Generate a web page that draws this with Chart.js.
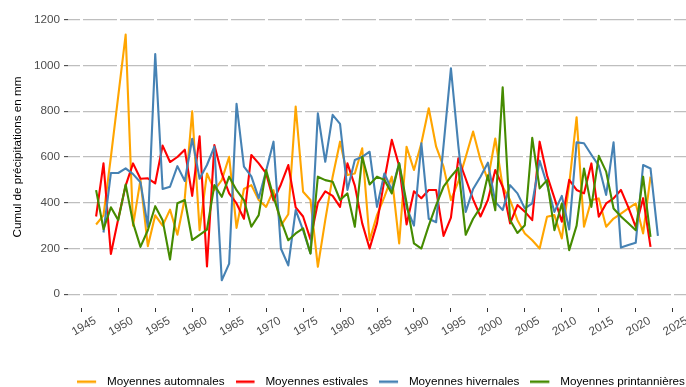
<!DOCTYPE html>
<html lang="fr">
<head>
<meta charset="utf-8">
<title>Cumul de précipitations saisonnier</title>
<script src="https://cdn.jsdelivr.net/npm/chart.js@4/dist/chart.umd.min.js"></script>
<style>
  html, body { margin: 0; padding: 0; background: #ffffff; }
  #graphique { display: block; }
</style>
</head>
<body>
<canvas id="graphique" width="686" height="387"></canvas>
<script>
// Années couvertes par les séries saisonnières
const annees = [
  1947, 1948, 1949, 1950, 1951, 1952, 1953, 1954, 1955, 1956,
  1957, 1958, 1959, 1960, 1961, 1962, 1963, 1964, 1965, 1966,
  1967, 1968, 1969, 1970, 1971, 1972, 1973, 1974, 1975, 1976,
  1977, 1978, 1979, 1980, 1981, 1982, 1983, 1984, 1985, 1986,
  1987, 1988, 1989, 1990, 1991, 1992, 1993, 1994, 1995, 1996,
  1997, 1998, 1999, 2000, 2001, 2002, 2003, 2004, 2005, 2006,
  2007, 2008, 2009, 2010, 2011, 2012, 2013, 2014, 2015, 2016,
  2017, 2018, 2019, 2020, 2021, 2022, 2023
];

// Cumuls moyens (mm) par saison
const automnales = [
  305, 345, 600, 867, 1135, 300, 500, 210, 345, 300,
  370, 260, 420, 800, 280, 528, 455, 499, 601, 290,
  460, 477, 412, 382, 455, 300, 350, 820, 448, 412,
  120, 324, 514, 667, 521, 528, 638, 236, 346, 426,
  514, 222, 645, 543, 660, 813, 645, 558, 412, 492,
  600, 711, 587, 500, 681, 470, 412, 324, 266, 236,
  200, 339, 346, 244, 480, 774, 295, 412, 419, 295,
  331, 353, 375, 397, 266, 514, null
];

const estivales = [
  340, 572, 176, 330, 475, 572, 505, 507, 485, 650,
  578, 600, 632, 430, 690, 122, 652, 528, 441, 397,
  330, 609, 572, 528, 410, 480, 565, 380, 340, 240,
  400, 450, 430, 382, 572, 475, 310, 200, 310, 500,
  675, 560, 305, 450, 420, 456, 456, 255, 335, 594,
  505, 415, 340, 412, 543, 470, 310, 390, 361, 324,
  667, 520, 420, 317, 500, 456, 441, 572, 339, 397,
  419, 456, 380, 295, 420, 207, null
];

const hivernales = [
  null, 270, 530, 530, 550, 525, 490, 295, 1050, 460,
  470, 560, 495, 680, 505, 565, 645, 61, 134, 832,
  558, 515, 420, 540, 667, 200, 126, 368, 280, 178,
  791, 579, 784, 745, 456, 587, 601, 623, 382, 528,
  456, 572, 380, 300, 660, 330, 315, 650, 988, 650,
  360, 460, 514, 575, 404, 368, 477, 441, 375, 397,
  584, 480, 360, 430, 283, 664, 660, 610, 562, 434,
  664, 204, 215, 225, 565, 550, 255
];

const printanieres = [
  455, 285, 380, 324, 480, 312, 207, 280, 385, 324,
  152, 398, 412, 237, 260, 283, 477, 426, 514, 455,
  412, 295, 346, 543, 426, 324, 236, 266, 288, 178,
  514, 499, 492, 412, 441, 295, 601, 480, 514, 500,
  441, 573, 400, 222, 200, 300, 390, 470, 514, 552,
  260, 330, 380, 520, 367, 905, 324, 268, 302, 684,
  463, 499, 280, 397, 193, 300, 550, 382, 605, 536,
  375, 340, 310, 280, 514, 251, null
];

// Graduations des axes
const graduationsX = [1945, 1950, 1955, 1960, 1965, 1970, 1975, 1980,
                      1985, 1990, 1995, 2000, 2005, 2010, 2015, 2020, 2025];
const graduationsY = [0, 200, 400, 600, 800, 1000, 1200];

const police = '"Liberation Sans", Arial, Helvetica, sans-serif';
const taille = 11.7;

// Petit trait de légende, suivi d'un espace avant le texte
function trait(couleur) {
  const c = document.createElement('canvas');
  c.width = 24;
  c.height = 4;
  const g = c.getContext('2d');
  g.strokeStyle = couleur;
  g.lineWidth = 2.5;
  g.beginPath();
  g.moveTo(0, 2);
  g.lineTo(19, 2);
  g.stroke();
  return c;
}

function serie(libelle, valeurs, couleur, ordre) {
  return {
    label: libelle,
    data: annees.map((a, i) => ({ x: a, y: valeurs[i] })),
    borderColor: couleur,
    backgroundColor: couleur,
    borderWidth: 2.1,
    borderJoinStyle: 'round',
    pointRadius: 0,
    pointHoverRadius: 0,
    pointStyle: trait(couleur),
    tension: 0,
    fill: false,
    order: ordre
  };
}

// Légende recentrée sous le panneau et descendue en bas du cadre
const placementLegende = {
  id: 'placementLegende',
  afterLayout(chart) {
    const lg = chart.legend;
    if (!lg) return;
    lg.left += 38; lg.right += 38;
    lg.top += 10.5; lg.bottom += 10.5;
  }
};

new Chart(document.getElementById('graphique'), {
  type: 'line',
  data: {
    datasets: [
      serie('Moyennes automnales', automnales, '#FFA500', 3),
      serie('Moyennes estivales', estivales, '#FF0000', 2),
      serie('Moyennes hivernales', hivernales, '#4682B4', 1),
      serie('Moyennes printannières', printanieres, '#458B00', 0)
    ]
  },
  options: {
    responsive: false,
    animation: false,
    devicePixelRatio: 1,
    events: [],
    layout: { padding: { top: 6, left: 0, right: 0, bottom: 0 } },
    scales: {
      x: {
        type: 'linear',
        min: 1943.2,
        max: 2026.8,
        afterBuildTicks: (s) => { s.ticks = graduationsX.map(v => ({ value: v })); },
        afterFit: (s) => { s.height = 46.3; s.paddingLeft = 0; s.paddingRight = 0; },
        border: { display: false },
        grid: {
          z: -0.5,
          color: '#FFFFFF',
          lineWidth: 3,
          drawTicks: true,
          tickLength: 4,
          tickColor: '#333333',
          tickWidth: 1
        },
        ticks: {
          autoSkip: false,
          minRotation: 30,
          maxRotation: 30,
          labelOffset: 14,
          padding: 2,
          color: '#4D4D4D',
          font: { family: police, size: taille },
          callback: (v) => String(v)
        }
      },
      y: {
        min: -60,
        max: 1260,
        afterBuildTicks: (s) => { s.ticks = graduationsY.map(v => ({ value: v })); },
        afterFit: (s) => { s.width = 68; s.paddingTop = 0; s.paddingBottom = 0; },
        border: { display: false },
        grid: {
          color: '#BEBEBE',
          lineWidth: 1.3,
          drawTicks: true,
          tickLength: 4,
          tickColor: '#333333',
          tickWidth: 1
        },
        ticks: {
          padding: 4,
          color: '#4D4D4D',
          font: { family: police, size: taille },
          callback: (v) => String(v)
        },
        title: {
          display: true,
          text: 'Cumul de précipitations en mm',
          color: '#000000',
          padding: { top: 11, bottom: 4 },
          font: { family: police, size: taille }
        }
      }
    },
    plugins: {
      tooltip: { enabled: false },
      legend: {
        position: 'bottom',
        align: 'center',
        labels: {
          usePointStyle: true,
          pointStyleWidth: 24,
          padding: 11,
          color: '#000000',
          font: { family: police, size: taille },
          sort: (a, b) => a.datasetIndex - b.datasetIndex
        }
      }
    }
  },
  plugins: [placementLegende]
});
</script>
</body>
</html>
